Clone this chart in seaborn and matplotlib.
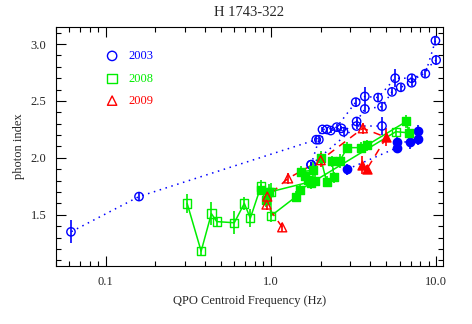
import numpy as np
import pandas as pd
import matplotlib
matplotlib.use("Agg")
import matplotlib.pyplot as plt
import seaborn as sns
from matplotlib.ticker import FixedLocator, NullFormatter, MultipleLocator

# 2003 -- blue circles, dotted tracks (path = which dotted track, filled = solid marker)
f03 = [9.9, 8.6, 7.1, 5.65, 4.45, 3.7, 3.26, 2.5, 2.18, 2.05, 1.88, 0.159, 0.0616,
       10.0, 7.1, 6.1, 5.4, 4.7, 3.7, 3.3, 2.75, 2.67, 2.3, 1.95, 1.75,
       1.75, 3.3, 4.7,
       2.9, 5.8, 5.8, 6.9, 7.8, 7.8]
g03 = [3.03, 2.74, 2.70, 2.70, 2.53, 2.54, 2.49, 2.27, 2.25, 2.25, 2.16, 1.66, 1.35,
       2.86, 2.66, 2.62, 2.58, 2.45, 2.43, 2.32, 2.23, 2.26, 2.24, 2.16, 1.94,
       1.94, 2.28, 2.28,
       1.90, 2.09, 2.14, 2.14, 2.17, 2.24]
e03 = [0.03, 0.03, 0.04, 0.08, 0.03, 0.08, 0.04, 0.03, 0.02, 0.02, 0.02, 0.03, 0.10,
       0.04, 0.03, 0.03, 0.03, 0.03, 0.03, 0.04, 0.03, 0.02, 0.02, 0.02, 0.02,
       0.02, 0.03, 0.08,
       0.05, 0.05, 0.05, 0.06, 0.06, 0.05]
s03 = [0] * 28 + [1] * 6
p03 = [0] * 13 + [1] * 12 + [2] * 3 + [3] * 6

# 2008 -- green squares, solid track
f08 = [0.311, 0.378, 0.436, 0.47, 0.60, 0.69, 0.75, 0.87, 1.0, 1.0,
       1.42, 1.5, 5.7, 6.85, 6.6, 3.8, 3.5, 2.9, 2.6, 2.35, 2.4, 2.17,
       2.0, 1.8, 1.53, 1.6, 1.68, 1.75, 1.85, 0.98, 0.87, 0.93]
g08 = [1.60, 1.18, 1.51, 1.44, 1.43, 1.60, 1.47, 1.75, 1.70, 1.49,
       1.66, 1.72, 2.23, 2.22, 2.32, 2.11, 2.09, 2.09, 1.97, 1.97, 1.83, 1.79,
       2.00, 1.89, 1.88, 1.84, 1.81, 1.78, 1.80, 1.70, 1.72, 1.63]
e08 = [0.08, 0.04, 0.10, 0.04, 0.10, 0.06, 0.08, 0.06, 0.08, 0.05,
       0.05, 0.05, 0.04, 0.05, 0.06, 0.05, 0.05, 0.05, 0.06, 0.05, 0.05, 0.05,
       0.06, 0.08, 0.05, 0.06, 0.05, 0.05, 0.06, 0.07, 0.05, 0.06]
s08 = [0] * 10 + [1, 1, 0] + [1] * 19
p08 = [0] * 32

# 2009 -- red triangles, dashed track
f09 = [1.17, 0.94, 0.95, 1.27, 2.0, 3.6, 5.0, 3.8, 3.57]
g09 = [1.39, 1.59, 1.66, 1.82, 1.98, 2.26, 2.18, 1.90, 1.94]
e09 = [0.04, 0.05, 0.06, 0.05, 0.06, 0.05, 0.08, 0.04, 0.08]
s09 = [0, 0, 0, 0, 0, 0, 1, 1, 1]
p09 = [0] * 9

years = ["2003", "2008", "2009"]
colors = {"2003": "#0000ff", "2008": "#00ee00", "2009": "#ff0000"}
markers = {"2003": "o", "2008": "s", "2009": "^"}
dashes = {"2003": (0, (1, 3)), "2008": "-", "2009": (0, (5, 4))}

frames = []
for yr, f, g, e, s, p in [("2003", f03, g03, e03, s03, p03),
                          ("2008", f08, g08, e08, s08, p08),
                          ("2009", f09, g09, e09, s09, p09)]:
    frames.append(pd.DataFrame({"year": yr, "freq": f, "gamma": g,
                                "err": e, "filled": s, "path": p}))
df = pd.concat(frames, ignore_index=True)

sns.set_theme(style="ticks")
plt.rcParams["font.family"] = ["Liberation Serif", "DejaVu Serif"]

fig = plt.figure(figsize=(4.72, 3.24), dpi=100)
ax = fig.add_axes([56 / 472, 1 - 266 / 324, 387 / 472, 239 / 324])
ax.set_xscale("log")

for yr in years:
    d = df[df.year == yr]
    c = colors[yr]
    for pid, dp in d.groupby("path"):
        sns.lineplot(data=dp, x="freq", y="gamma", sort=False, estimator=None,
                     color=c, linestyle=dashes[yr], lw=1.1, ax=ax, legend=False,
                     zorder=2)
    ax.errorbar(d.freq, d.gamma, yerr=d.err, fmt="none", ecolor=c,
                elinewidth=1.2, capsize=0, zorder=3)
    sz = 36 if yr != "2009" else 42
    sns.scatterplot(data=d[d.filled == 0], x="freq", y="gamma", marker=markers[yr],
                    s=sz, facecolor="none", edgecolor=c, linewidth=1.0, ax=ax,
                    legend=False, zorder=4)
    sns.scatterplot(data=d[d.filled == 1], x="freq", y="gamma", marker=markers[yr],
                    s=sz, color=c, edgecolor=c, linewidth=1.0, ax=ax,
                    legend=False, zorder=4)

# year key drawn inside the axes
for i, yr in enumerate(years):
    yy = [0.879, 0.784, 0.692][i]
    ax.scatter([0.145], [yy], transform=ax.transAxes, marker=markers[yr], s=45,
               facecolor="none", edgecolor=colors[yr], linewidth=1.0, zorder=5)
    ax.text(0.186, yy, yr, transform=ax.transAxes, color=colors[yr], fontsize=9,
            va="center", ha="left")

ax.set_xlim(0.05, 11.0)
ax.set_ylim(1.05, 3.15)
ax.xaxis.set_major_locator(FixedLocator([0.1, 1.0, 10.0]))
ax.set_xticklabels(["0.1", "1.0", "10.0"])
minor = [m * 10.0 ** k for k in (-2, -1, 0, 1) for m in range(2, 10)]
ax.xaxis.set_minor_locator(FixedLocator(minor))
ax.xaxis.set_minor_formatter(NullFormatter())
ax.yaxis.set_major_locator(FixedLocator([1.5, 2.0, 2.5, 3.0]))
ax.set_yticklabels(["1.5", "2.0", "2.5", "3.0"])
ax.yaxis.set_minor_locator(MultipleLocator(0.1))
ax.tick_params(which="both", direction="in", top=True, right=True,
               labelsize=9, color="black", width=0.8)
ax.tick_params(which="major", length=7, pad=7)
ax.tick_params(which="minor", length=3.5)
for sp in ax.spines.values():
    sp.set_linewidth(0.8)
    sp.set_color("black")

ax.set_xlabel("QPO Centroid Frequency (Hz)", fontsize=9, labelpad=5)
ax.set_ylabel("photon index", fontsize=9, labelpad=4)
ax.set_title("H 1743-322", fontsize=10.5, pad=8)

fig.savefig("out.png", dpi=100)
